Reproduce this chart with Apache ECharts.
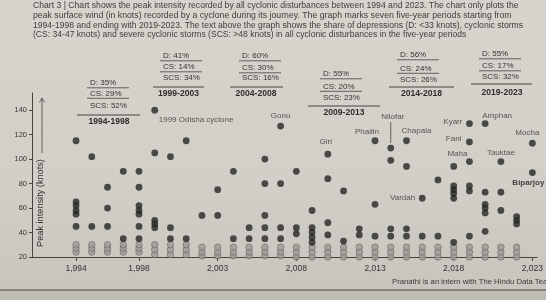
<!DOCTYPE html>
<html lang="en">
<head>
<meta charset="UTF-8" />
<title>Cyclone peak intensity 1994-2023</title>
<script src="https://cdn.jsdelivr.net/npm/echarts@6/dist/echarts.min.js"></script>
<style>
  html, body { margin: 0; padding: 0; background: #d2d0c9; }
  #chart { width: 546px; height: 300px; }
</style>
</head>
<body>
<div id="chart"></div>
<script>
// ---- data ----
const years = [1994, 1995, 1996, 1997, 1998, 1999, 2000, 2001, 2002, 2003,
  2004, 2005, 2006, 2007, 2008, 2009, 2010, 2011, 2012, 2013,
  2014, 2015, 2016, 2017, 2018, 2019, 2020, 2021, 2022, 2023];

// peak wind (knots) of cyclonic storms and stronger, per year
const storms = [
  [115, 65, 62, 58, 55, 45],
  [102, 45],
  [77, 60, 45],
  [90, 35],
  [90, 77, 62, 58, 55, 45, 35],
  [140, 105, 50, 47, 44],
  [102, 44, 35],
  [115, 35],
  [54],
  [75, 54],
  [90, 35],
  [44, 35],
  [100, 80, 54, 44, 35],
  [127, 80, 44, 35],
  [90, 44, 39],
  [58, 44, 40, 36, 32],
  [104, 84, 48, 38],
  [74, 33],
  [43, 38],
  [115, 63, 37],
  [109, 99, 43, 37],
  [115, 94, 43, 37],
  [68, 37],
  [83, 37],
  [94, 78, 75, 72, 68, 32],
  [129, 114, 98, 78, 74, 37],
  [129, 73, 63, 60, 56, 41],
  [98, 73, 58],
  [53, 50, 47],
  [113, 89]
];

// depressions (lighter dots), per year
const depressions = [
  [24, 27, 30], [24, 27, 30], [24, 27, 30], [24, 27, 30], [24, 27, 30],
  [22, 26, 30], [22, 26, 30], [22, 26, 30], [21, 24, 28], [21, 24, 28],
  [21, 24, 28], [21, 24, 28], [21, 24, 28], [21, 24, 28], [20, 24, 28],
  [20, 24, 28], [20, 24, 28], [20, 24, 28], [20, 24, 28], [20, 24, 28],
  [20, 24, 28], [20, 24, 28], [20, 24, 28], [20, 24, 28], [20, 24, 28],
  [20, 24, 28], [20, 24, 28], [20, 24, 28], [20, 24, 28], []
];

const xTickYears = [1994, 1998, 2003, 2008, 2013, 2018, 2023];
const yTickValues = [20, 40, 60, 80, 100, 120, 140];

const periods = ['1994-1998', '1999-2003', '2004-2008', '2009-2013', '2014-2018', '2019-2023'];
const shareD = [35, 41, 60, 55, 56, 55];
const shareCS = [29, 14, 30, 20, 24, 17];
const shareSCS = [52, 34, 16, 23, 26, 32];

const cycloneNames = ['1999 Odisha cyclone', 'Gonu', 'Giri', 'Phailin', 'Nilofar', 'Chapala',
  'Vardah', 'Kyarr', 'Amphan', 'Fani', 'Maha', 'Tauktae', 'Mocha', 'Biparjoy'];
const cycloneYears = [1999, 2007, 2010, 2013, 2014, 2015, 2016, 2019, 2020, 2019, 2019, 2021, 2023, 2023];
const cycloneValues = [140, 127, 104, 115, 109, 115, 68, 129, 129, 114, 98, 98, 113, 89];

const titleLines = [
  'Chart 3 | Chart shows the peak intensity recorded by all cyclonic disturbances between 1994 and 2023. The chart only plots the',
  'peak surface wind (in knots) recorded by a cyclone during its journey. The graph marks seven five-year periods starting from',
  '1994-1998 and ending with 2019-2023. The text above the graph shows the share of depressions (D: <33 knots), cyclonic storms',
  '(CS: 34-47 knots) and severe cyclonic storms (SCS: >48 knots) in all cyclonic disturbances in the five-year periods'
];
const axisName = 'Peak intensity (knots)';
const credit = 'Pranathi is an intern with The Hindu Data Team';

// ---- layout / style ----
const font = "'Liberation Sans', Arial, sans-serif";
const ink = '#34332f';
const dotInk = '#262624';

// label anchor offsets from the dot: [dx, dy, align, bold]
const labelPlacement = [
  [4, 10, 'left', false],
  [0, -10, 'center', false],
  [-2, -12, 'center', false],
  [-8, -9, 'center', false],
  [2, -31, 'center', false],
  [10, -10, 'center', false],
  [-7, 0, 'right', false],
  [-7, -2, 'right', false],
  [12, -8, 'center', false],
  [-8, -3, 'right', false],
  [-12, -8, 'center', false],
  [0, -9, 'center', false],
  [-5, -10, 'center', false],
  [-20, 10, 'left', true]
];

// pixel layout of the share blocks above the plot
const blockLayout = [
  { x: 90, yD: 83, yCS: 93.5, ySCS: 105.5, yLine: 115, l: 77, r: 140, yLab: 121.5, cx: 109 },
  { x: 163, yD: 56, yCS: 67, ySCS: 78, yLine: 87, l: 153, r: 204, yLab: 94, cx: 178.5 },
  { x: 242, yD: 56, yCS: 68, ySCS: 78, yLine: 87, l: 230, r: 283, yLab: 94, cx: 256 },
  { x: 323, yD: 74, yCS: 86.5, ySCS: 98, yLine: 106, l: 308, r: 380, yLab: 113, cx: 344 },
  { x: 400, yD: 55, yCS: 68.5, ySCS: 80, yLine: 87, l: 389, r: 454, yLab: 93.5, cx: 421.5 },
  { x: 482, yD: 54, yCS: 66, ySCS: 77, yLine: 84, l: 471, r: 532, yLab: 92.5, cx: 502 }
];

const measureCtx = document.createElement('canvas').getContext('2d');
function fitSize(text, width, weight) {
  measureCtx.font = (weight || 'normal') + ' 10px ' + font;
  return 10 * width / measureCtx.measureText(text).width;
}

// ---- build series data ----
const stormPoints = [];
const depressionPoints = [];
years.forEach((yr, i) => {
  storms[i].forEach(v => stormPoints.push([yr, v]));
  depressions[i].forEach(v => depressionPoints.push([yr, v]));
});

const namedPoints = cycloneNames.map((name, i) => {
  const p = labelPlacement[i];
  return {
    name: name,
    value: [cycloneYears[i], cycloneValues[i]],
    label: {
      position: [p[0] + 1, p[1] + 1],
      align: p[2],
      fontWeight: p[3] ? 'bold' : 'normal',
      color: p[3] ? '#1c1c1a' : ink
    }
  };
});

// ---- static graphics ----
function line(x1, y1, x2, y2, w) {
  return {
    type: 'line', silent: true,
    shape: { x1: x1, y1: y1, x2: x2, y2: y2 },
    style: { stroke: '#45443f', lineWidth: w || 0.8 }
  };
}
function text(str, x, y, size, opts) {
  opts = opts || {};
  return {
    type: 'text', silent: true, x: x, y: y, rotation: opts.rotation || 0,
    style: {
      text: str, fill: opts.fill || ink,
      font: (opts.weight || 'normal') + ' ' + size + 'px ' + font,
      textAlign: opts.align || 'left', textVerticalAlign: 'middle'
    }
  };
}

const graphics = [];
// background + bottom page edge
graphics.push({
  type: 'rect', silent: true, z: -10, shape: { x: 0, y: 0, width: 546, height: 300 },
  style: {
    fill: new echarts.graphic.LinearGradient(0, 0, 0, 1, [
      { offset: 0, color: '#d6d4cd' }, { offset: 0.6, color: '#d1cfc8' }, { offset: 1, color: '#c6c4bd' }
    ])
  }
});
graphics.push({
  type: 'rect', silent: true, z: -9, shape: { x: 0, y: 290, width: 546, height: 10 },
  style: { fill: '#bebcb5' }
});
graphics.push(line(0, 290, 546, 290, 1.2));

const titleWidths = [486, 479, 491, 434];
titleLines.forEach((t, i) => {
  graphics.push(text(t, 33, 6 + i * 9.7, fitSize(t, titleWidths[i]), { fill: '#403f3b' }));
});

periods.forEach((p, i) => {
  const b = blockLayout[i];
  graphics.push(text('D: ' + shareD[i] + '%', b.x, b.yD, 8));
  graphics.push(line(b.x - 3, b.yD + 4.8, b.x + 39, b.yD + 4.8));
  graphics.push(text('CS: ' + shareCS[i] + '%', b.x, b.yCS, 8));
  graphics.push(line(b.x - 3, b.yCS + 4.8, b.x + 39, b.yCS + 4.8));
  graphics.push(text('SCS: ' + shareSCS[i] + '%', b.x, b.ySCS, 8));
  graphics.push(line(b.l, b.yLine, b.r, b.yLine, 1));
  graphics.push(text(p, b.cx, b.yLab, fitSize(p, 41, 'bold'), { weight: 'bold', align: 'center', fill: '#2f2e2b' }));
});

// y axis name with upward arrow
graphics.push(text(axisName, 40, 203, fitSize(axisName, 88), { rotation: Math.PI / 2, align: 'center' }));
graphics.push(line(42, 153, 42, 98, 0.8));
graphics.push({
  type: 'polyline', silent: true,
  shape: { points: [[39.5, 102.5], [42, 98], [44.5, 102.5]] },
  style: { stroke: '#45443f', lineWidth: 0.8, fill: null }
});

graphics.push(text(credit, 392, 282, fitSize(credit, 162), { fill: '#3a3935' }));

// ---- chart ----
const chart = echarts.init(document.getElementById('chart'), null, { renderer: 'canvas' });

chart.setOption({
  animation: false,
  backgroundColor: 'transparent',
  grid: { left: 32, right: 0, top: 93, bottom: 43, containLabel: false },
  xAxis: {
    type: 'value', min: 1991.2, max: 2023.3,
    splitLine: { show: false },
    axisLine: { lineStyle: { color: '#45443f', width: 1 } },
    axisTick: { customValues: xTickYears, length: 4, lineStyle: { color: '#45443f' } },
    axisLabel: {
      customValues: xTickYears, margin: 7,
      fontFamily: font, fontSize: 8.5, color: ink
    }
  },
  yAxis: {
    type: 'value', min: 20, max: 154,
    splitLine: { show: false },
    axisLine: { show: true, lineStyle: { color: '#45443f', width: 1 } },
    axisTick: { show: true, customValues: yTickValues, length: 3, lineStyle: { color: '#45443f' } },
    axisLabel: {
      customValues: yTickValues, margin: 5,
      fontFamily: font, fontSize: 7.5, color: ink
    }
  },
  series: [
    {
      name: 'Depressions', type: 'scatter', symbolSize: 6.5, z: 2,
      data: depressionPoints,
      itemStyle: { color: '#9d9b95', borderColor: '#6a6964', borderWidth: 0.8 }
    },
    {
      name: 'Cyclonic storms', type: 'scatter', symbolSize: 6.8, z: 3,
      data: stormPoints,
      itemStyle: { color: dotInk }
    },
    {
      name: 'Named', type: 'scatter', symbolSize: 2, z: 4, silent: true,
      data: namedPoints,
      itemStyle: { color: 'rgba(0,0,0,0)' },
      label: {
        show: true, formatter: '{b}', verticalAlign: 'middle',
        fontFamily: font, fontSize: 8, color: ink
      }
    }
  ],
  graphic: graphics
});

// leader line for Nilofar
const ni = cycloneNames.indexOf('Nilofar');
const np = chart.convertToPixel({ gridIndex: 0 }, [cycloneYears[ni], cycloneValues[ni]]);
graphics.push(line(np[0], np[1] - 26, np[0], np[1] - 5, 0.8));
chart.setOption({ graphic: graphics });
</script>
</body>
</html>
